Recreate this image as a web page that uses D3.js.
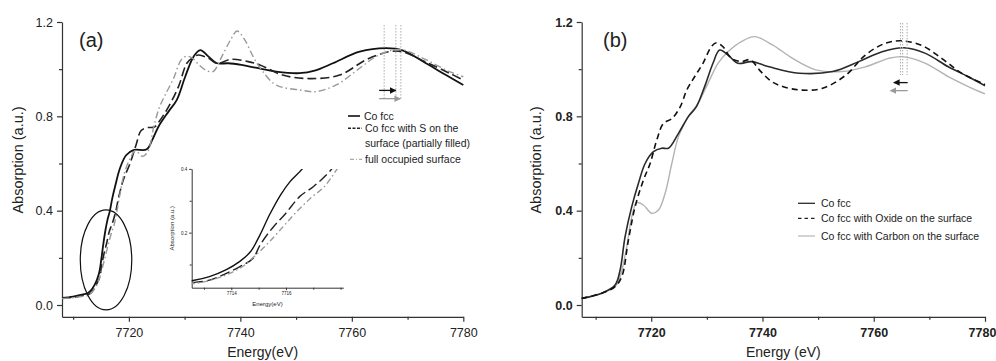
<!DOCTYPE html>
<html>
<head>
<meta charset="utf-8">
<script src="https://cdn.jsdelivr.net/npm/d3@7"></script>
<style>
  body { margin: 0; background: #fff; }
  svg { display: block; }
  text { font-family: Arial, 'Liberation Sans', sans-serif; fill: #222; }
</style>
</head>
<body>
<svg id="chart" width="996" height="361"></svg>
<script>
// ---- data (energy in eV, absorption in a.u.) ----

// panel (a)
const coFccA = [
  [7708, 0.030], [7710, 0.036], [7712, 0.046], [7712.6, 0.050], [7713.2, 0.062],
  [7713.8, 0.083], [7714.3, 0.109], [7714.7, 0.140], [7715.05, 0.193], [7715.4, 0.256],
  [7715.8, 0.318], [7716.15, 0.360], [7716.6, 0.400], [7717.0, 0.450], [7717.5, 0.500],
  [7718.4, 0.580], [7719.5, 0.635], [7720.8, 0.657], [7723.2, 0.660], [7724.2, 0.700],
  [7725.3, 0.756], [7727.1, 0.820], [7728.6, 0.870], [7730.1, 0.968], [7731.6, 1.053],
  [7732.8, 1.081], [7734.3, 1.053], [7735.8, 1.025], [7737.8, 1.025], [7740.2, 1.018],
  [7743.0, 1.005], [7746.4, 0.990], [7750.6, 0.983], [7753.5, 0.995], [7756.6, 1.025],
  [7761.4, 1.074], [7766.1, 1.089], [7769.1, 1.080], [7773.3, 1.025], [7776.9, 0.975],
  [7780, 0.933]
];
const sSurfaceA = [
  [7708, 0.028], [7710, 0.033], [7712, 0.042], [7712.6, 0.044], [7713.2, 0.051],
  [7714.3, 0.093], [7714.8, 0.120], [7715.05, 0.161], [7715.5, 0.214], [7716.0, 0.261],
  [7716.5, 0.313], [7717.0, 0.344], [7717.6, 0.392], [7718.2, 0.460], [7719.0, 0.530],
  [7720.2, 0.600], [7721.3, 0.680], [7722.2, 0.740], [7723.3, 0.752], [7724.6, 0.755],
  [7725.5, 0.780], [7727.1, 0.840], [7728.9, 0.926], [7730.4, 1.025], [7731.5, 1.050],
  [7732.5, 1.060], [7734.3, 1.046], [7735.8, 1.025], [7738.4, 1.042], [7741.4, 1.032],
  [7743.5, 1.018], [7747.6, 0.975], [7752.4, 0.960], [7757.8, 0.975], [7762.6, 1.040],
  [7766.7, 1.074], [7769.0, 1.074], [7773.3, 1.030], [7777.5, 0.983], [7780, 0.954]
];
const fullSurfaceA = [
  [7708, 0.027], [7710, 0.031], [7712, 0.038], [7712.6, 0.040], [7713.2, 0.050],
  [7713.8, 0.067], [7714.4, 0.093], [7714.9, 0.130], [7715.4, 0.172], [7715.9, 0.219],
  [7716.4, 0.266], [7716.9, 0.308], [7717.4, 0.344], [7717.85, 0.397], [7718.4, 0.470],
  [7719.2, 0.560], [7720.2, 0.620], [7721.2, 0.655], [7722.4, 0.630], [7723.4, 0.650],
  [7724.5, 0.760], [7725.5, 0.840], [7726.5, 0.890], [7728.0, 0.960], [7729.4, 1.040],
  [7730.4, 1.055], [7731.5, 1.045], [7732.5, 1.020], [7733.7, 0.997], [7735.1, 0.990],
  [7736.6, 1.050], [7738.4, 1.131], [7739.4, 1.162], [7740.8, 1.124], [7742.3, 1.053],
  [7743.8, 0.997], [7746.4, 0.933], [7750.6, 0.912], [7753.6, 0.905], [7757.2, 0.933],
  [7761.4, 1.004], [7764.3, 1.053], [7767.3, 1.081], [7769.5, 1.080], [7773.3, 1.040],
  [7777.5, 0.990], [7780, 0.968]
];

// panel (b)
const coFccB = [
  [7707.5, 0.028], [7711.1, 0.050], [7713.5, 0.085], [7714.4, 0.148], [7715.3, 0.290],
  [7716.5, 0.417], [7717.7, 0.516], [7718.9, 0.600], [7720.4, 0.650], [7721.9, 0.665],
  [7723.1, 0.665], [7724.9, 0.728], [7726.7, 0.800], [7728.1, 0.840], [7729.6, 0.926],
  [7731.1, 1.025], [7732.3, 1.081], [7733.8, 1.060], [7735.6, 1.025], [7738.0, 1.032],
  [7741.2, 1.010], [7746.6, 0.983], [7752.6, 0.990], [7757.3, 1.032], [7761.5, 1.074],
  [7765.4, 1.091], [7769.3, 1.067], [7773.4, 1.010], [7777.0, 0.968], [7780, 0.930]
];
const oxideB = [
  [7707.5, 0.028], [7711.1, 0.050], [7713.5, 0.078], [7714.7, 0.120], [7715.9, 0.276],
  [7717.1, 0.417], [7718.6, 0.530], [7719.8, 0.600], [7721.0, 0.700], [7722.2, 0.770],
  [7723.7, 0.790], [7725.2, 0.840], [7726.4, 0.912], [7727.8, 0.968], [7729.3, 1.025],
  [7730.8, 1.095], [7731.7, 1.112], [7732.9, 1.095], [7734.4, 1.046], [7736.2, 1.032],
  [7737.8, 1.040], [7739.5, 0.995], [7741.5, 0.950], [7743.2, 0.930], [7746.6, 0.912],
  [7750.8, 0.919], [7755.0, 0.975], [7758.5, 1.060], [7762.1, 1.110], [7765.1, 1.120],
  [7768.7, 1.100], [7772.2, 1.046], [7775.8, 0.983], [7780, 0.935]
];
const carbonB = [
  [7707.5, 0.028], [7711.1, 0.050], [7713.5, 0.078], [7714.4, 0.120], [7715.6, 0.247],
  [7716.5, 0.374], [7717.4, 0.434], [7718.6, 0.424], [7720.1, 0.389], [7721.3, 0.403],
  [7722.5, 0.474], [7723.7, 0.600], [7724.9, 0.714], [7726.7, 0.800], [7728.4, 0.855],
  [7730.2, 0.940], [7732.0, 1.025], [7733.8, 1.074], [7736.2, 1.117], [7738.6, 1.138],
  [7741.8, 1.103], [7745.4, 1.046], [7749.6, 0.997], [7754.3, 0.990], [7758.5, 1.010],
  [7762.7, 1.046], [7765.1, 1.053], [7769.3, 1.025], [7773.4, 0.968], [7777.0, 0.926],
  [7780, 0.895]
];

// ticks and labels
const yMajor = [0, 0.4, 0.8, 1.2];
const yMinor = [0.2, 0.6, 1.0];
const xMajor = [7720, 7740, 7760, 7780];
const xMinor = [7710, 7730, 7750, 7770];
const insetXMajor = [7714, 7716];
const insetXMinor = [7713, 7715, 7717, 7718];
const insetYMajor = [0.2, 0.4];
const insetYMinor = [0.1, 0.3];

const legendA = ['Co fcc', 'Co fcc with S on the', 'surface (partially filled)', 'full occupied surface'];
const legendB = ['Co fcc', 'Co fcc with Oxide on the surface', 'Co fcc with Carbon on the surface'];

// edge shift markers (energy of dotted guides, arrow start/end)
const guidesA = [7765.8, 7767.9, 7768.8];
const arrowsA = [[7764.9, 7767.9, 0.91], [7764.9, 7768.7, 0.875]];
const guidesB = [7764.8, 7765.2, 7766.0];
const arrowsB = [[7766.1, 7763.6, 0.943], [7766.1, 7763.0, 0.909]];

// ---- drawing ----
const svg = d3.select('#chart');
const fmtY = d3.format('.1f');
const fmtX = d3.format('d');

const defs = svg.append('defs');
[['arrBlack', '#111'], ['arrGrey', '#999']].forEach(function(m) {
  defs.append('marker')
    .attr('id', m[0])
    .attr('viewBox', '0 0 10 10')
    .attr('refX', 9).attr('refY', 5)
    .attr('markerWidth', 5).attr('markerHeight', 5)
    .attr('orient', 'auto')
    .append('path')
    .attr('d', 'M0,0 L10,5 L0,10 z')
    .attr('fill', m[1]);
});

function drawAxes(g, x, y, opt) {
  const bottom = y.range()[0];
  const left = x.range()[0];

  g.append('g')
    .attr('transform', 'translate(0,' + bottom + ')')
    .call(d3.axisBottom(x).tickValues(xMinor).tickSize(3).tickFormat(''))
    .call(s => s.select('.domain').remove());
  const xa = g.append('g')
    .attr('transform', 'translate(0,' + bottom + ')')
    .call(d3.axisBottom(x).tickValues(xMajor).tickSize(5).tickSizeOuter(0).tickFormat(fmtX).tickPadding(6));

  g.append('g')
    .attr('transform', 'translate(' + left + ',0)')
    .call(d3.axisLeft(y).tickValues(yMinor).tickSize(3).tickFormat(''))
    .call(s => s.select('.domain').remove());
  const ya = g.append('g')
    .attr('transform', 'translate(' + left + ',0)')
    .call(d3.axisLeft(y).tickValues(yMajor).tickSize(5).tickSizeOuter(0).tickFormat(fmtY).tickPadding(4));

  g.selectAll('.domain, .tick line').attr('stroke', '#333').attr('stroke-width', 1.2);
  [xa, ya].forEach(function(a) {
    a.selectAll('.tick text')
      .style('font-family', 'Arial, sans-serif')
      .style('font-size', '12.5px')
      .style('font-weight', opt.bold ? 'bold' : 'normal')
      .attr('fill', '#333');
  });
  // keep the last energy label inside the page
  if (opt.lastLabelShift) {
    xa.selectAll('.tick text').filter(d => d === 7780).attr('dx', opt.lastLabelShift);
  }
}

function drawPanel(cfg) {
  const x = d3.scaleLinear().domain(cfg.xDomain).range(cfg.xRange);
  const y = d3.scaleLinear().domain([-0.05, 1.2]).range([316.8, 22]);
  const g = svg.append('g');

  drawAxes(g, x, y, cfg);

  const line = d3.line()
    .x(d => x(d[0]))
    .y(d => y(d[1]))
    .curve(d3.curveCatmullRom.alpha(0.5));

  cfg.series.forEach(function(s) {
    g.append('path')
      .attr('d', line(s.data))
      .attr('fill', 'none')
      .attr('stroke', s.color)
      .attr('stroke-width', s.width)
      .attr('stroke-dasharray', s.dash || null);
  });

  // dotted guides and shift arrows
  cfg.guides.forEach(function(e) {
    g.append('line')
      .attr('x1', x(e)).attr('x2', x(e))
      .attr('y1', y(cfg.guideTop)).attr('y2', y(cfg.guideBottom))
      .attr('stroke', '#aaa').attr('stroke-width', 1)
      .attr('stroke-dasharray', '1.5,1.5');
  });
  cfg.arrows.forEach(function(a, i) {
    g.append('line')
      .attr('x1', x(a[0])).attr('x2', x(a[1]))
      .attr('y1', y(a[2])).attr('y2', y(a[2]))
      .attr('stroke', i === 0 ? '#111' : '#999')
      .attr('stroke-width', 1.3)
      .attr('marker-end', i === 0 ? 'url(#arrBlack)' : 'url(#arrGrey)');
  });

  // panel letter
  g.append('text')
    .attr('x', cfg.letterX).attr('y', 47)
    .style('font-size', '20px')
    .text(cfg.letter);

  // axis titles
  g.append('text')
    .attr('x', d3.mean(cfg.xRange)).attr('y', 357)
    .attr('text-anchor', 'middle')
    .style('font-size', '14px')
    .text(cfg.xTitle);
  g.append('text')
    .attr('transform', 'translate(' + cfg.yTitleX + ',160) rotate(-90)')
    .attr('text-anchor', 'middle')
    .style('font-size', '14.5px')
    .text('Absorption (a.u.)');

  return { g: g, x: x, y: y, line: line };
}

// ---------- panel (a) ----------
const seriesA = [
  { data: coFccA, color: '#111', width: 1.8 },
  { data: sSurfaceA, color: '#222', width: 1.6, dash: '9,4' },
  { data: fullSurfaceA, color: '#999', width: 1.4, dash: '7,3,1.5,3' }
];
const pa = drawPanel({
  xDomain: [7708, 7780], xRange: [62, 463.3],
  series: seriesA,
  guides: guidesA, guideTop: 1.187, guideBottom: 0.869,
  arrows: arrowsA,
  letter: '(a)', letterX: 79,
  xTitle: 'Energy(eV)', yTitleX: 23,
  bold: false
});

// circled edge region
pa.g.append('ellipse')
  .attr('cx', pa.x(7715.9)).attr('cy', pa.y(0.191))
  .attr('rx', pa.x(7715.9 + 4.62) - pa.x(7715.9))
  .attr('ry', pa.y(0) - pa.y(0.212))
  .attr('fill', 'none').attr('stroke', '#111').attr('stroke-width', 1.2);

// legend (a)
const legA = pa.g.append('g');
const legARows = [116, 128.3, 143.3, 159.3];
legA.append('line').attr('x1', 348).attr('x2', 360).attr('y1', legARows[0]).attr('y2', legARows[0])
  .attr('stroke', '#111').attr('stroke-width', 1.6);
legA.append('line').attr('x1', 348).attr('x2', 362).attr('y1', legARows[1]).attr('y2', legARows[1])
  .attr('stroke', '#222').attr('stroke-width', 1.4).attr('stroke-dasharray', '3,1.5');
legA.append('line').attr('x1', 350).attr('x2', 362).attr('y1', legARows[3]).attr('y2', legARows[3])
  .attr('stroke', '#aaa').attr('stroke-width', 1.2).attr('stroke-dasharray', '4,2,1,2');
legendA.forEach(function(t, i) {
  legA.append('text')
    .attr('x', i === 0 ? 364 : 365).attr('y', legARows[i])
    .attr('dy', '0.35em')
    .style('font-size', '10.5px')
    .text(t);
});

// inset (a)
const ix = d3.scaleLinear().domain([7712.55, 7718.1]).range([191.7, 343.3]);
const iy = d3.scaleLinear().domain([0.0273, 0.4]).range([287.7, 168.9]);
const inset = pa.g.append('g');
defs.append('clipPath').attr('id', 'insetClip')
  .append('rect')
  .attr('x', ix.range()[0]).attr('y', iy.range()[1])
  .attr('width', ix.range()[1] - ix.range()[0])
  .attr('height', iy.range()[0] - iy.range()[1]);

inset.append('g')
  .attr('transform', 'translate(0,' + iy.range()[0] + ')')
  .call(d3.axisBottom(ix).tickValues(insetXMinor).tickSize(2).tickFormat(''))
  .call(s => s.select('.domain').remove());
const ixa = inset.append('g')
  .attr('transform', 'translate(0,' + iy.range()[0] + ')')
  .call(d3.axisBottom(ix).tickValues(insetXMajor).tickSize(2.5).tickSizeOuter(0).tickFormat(fmtX).tickPadding(2));
inset.append('g')
  .attr('transform', 'translate(' + ix.range()[0] + ',0)')
  .call(d3.axisLeft(iy).tickValues(insetYMinor).tickSize(2).tickFormat(''))
  .call(s => s.select('.domain').remove());
const iya = inset.append('g')
  .attr('transform', 'translate(' + ix.range()[0] + ',0)')
  .call(d3.axisLeft(iy).tickValues(insetYMajor).tickSize(2.5).tickSizeOuter(0).tickFormat(fmtY).tickPadding(2));
inset.selectAll('.domain, .tick line').attr('stroke', '#333').attr('stroke-width', 1);
[ixa, iya].forEach(function(a) {
  a.selectAll('.tick text')
    .style('font-family', 'Arial, sans-serif')
    .style('font-size', '4.5px')
    .attr('fill', '#333');
});

const iline = d3.line()
  .x(d => ix(d[0]))
  .y(d => iy(d[1]))
  .curve(d3.curveCatmullRom.alpha(0.5));
const insetDash = [null, '10,4', '6,3,1.5,3'];
seriesA.forEach(function(s, i) {
  inset.append('path')
    .attr('d', iline(s.data))
    .attr('clip-path', 'url(#insetClip)')
    .attr('fill', 'none')
    .attr('stroke', s.color)
    .attr('stroke-width', 1.4)
    .attr('stroke-dasharray', insetDash[i]);
});
inset.append('text')
  .attr('x', d3.mean(ix.range())).attr('y', 306)
  .attr('text-anchor', 'middle')
  .style('font-size', '6px')
  .text('Energy(eV)');
inset.append('text')
  .attr('transform', 'translate(173.5,' + d3.mean(iy.range()) + ') rotate(-90)')
  .attr('text-anchor', 'middle')
  .style('font-size', '6px')
  .text('Absorption (a.u.)');

// ---------- panel (b) ----------
const pb = drawPanel({
  xDomain: [7707.5, 7780], xRange: [581.7, 985],
  series: [
    { data: carbonB, color: '#b3b3b3', width: 1.4 },
    { data: coFccB, color: '#2a2a2a', width: 1.6 },
    { data: oxideB, color: '#111', width: 1.6, dash: '6,4' }
  ],
  guides: guidesB, guideTop: 1.196, guideBottom: 0.975,
  arrows: arrowsB,
  letter: '(b)', letterX: 603,
  xTitle: 'Energy (eV)', yTitleX: 541,
  bold: true,
  lastLabelShift: -3
});

// legend (b)
const legB = pb.g.append('g');
const legBRows = [203.3, 218.3, 236];
const legBStyle = [
  { color: '#2a2a2a', dash: null },
  { color: '#222', dash: '3.5,3' },
  { color: '#bbb', dash: null }
];
legendB.forEach(function(t, i) {
  legB.append('line')
    .attr('x1', 798).attr('x2', 815)
    .attr('y1', legBRows[i]).attr('y2', legBRows[i])
    .attr('stroke', legBStyle[i].color).attr('stroke-width', 1.3)
    .attr('stroke-dasharray', legBStyle[i].dash);
  legB.append('text')
    .attr('x', 821).attr('y', legBRows[i])
    .attr('dy', '0.35em')
    .style('font-size', '10.5px')
    .text(t);
});
</script>
</body>
</html>
